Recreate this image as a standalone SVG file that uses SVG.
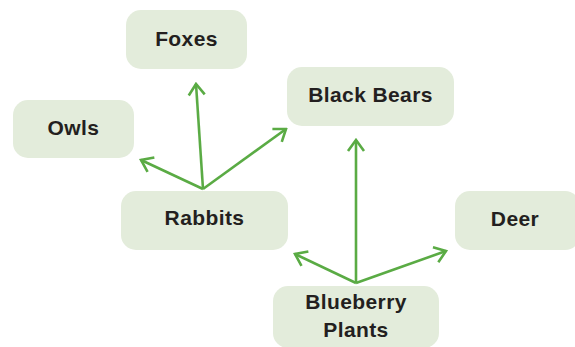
<svg xmlns="http://www.w3.org/2000/svg" width="575" height="347" viewBox="0 0 575 347">
<style>
.box{fill:#e3ecdb}
.lbl{font-family:"Liberation Sans",Arial,sans-serif;font-weight:bold;font-size:21px;fill:#231f20;text-anchor:middle;letter-spacing:0.4px}
.edge{stroke:#5aab44;stroke-width:2.6;fill:none;marker-end:url(#ah)}
</style>
<defs>
<marker id="ah" markerUnits="userSpaceOnUse" viewBox="-14 -10 16 20" refX="0" refY="0" markerWidth="16" markerHeight="20" orient="auto">
<path d="M-11,-8 L0,0 L-11,8" fill="none" stroke="#5aab44" stroke-width="2.6"/>
</marker>
</defs>
<g id="foxes"><rect class="box" x="126" y="10" width="121" height="59" rx="15"/><text class="lbl" x="186.5" y="46">Foxes</text></g>
<g id="owls"><rect class="box" x="13" y="100" width="121" height="58" rx="15"/><text class="lbl" x="73.5" y="135">Owls</text></g>
<g id="blackbears"><rect class="box" x="287" y="67" width="167" height="59" rx="15"/><text class="lbl" x="370.5" y="102">Black Bears</text></g>
<g id="rabbits"><rect class="box" x="121" y="191" width="167" height="59" rx="15"/><text class="lbl" x="204.5" y="225">Rabbits</text></g>
<g id="deer"><rect class="box" x="455" y="191" width="125" height="59" rx="15"/><text class="lbl" x="515" y="226">Deer</text></g>
<g id="blueberry"><rect class="box" x="273" y="286" width="166" height="62" rx="15"/><text class="lbl" x="356" y="309">Blueberry</text><text class="lbl" x="356" y="337">Plants</text></g>
<g id="connectors">
<line class="edge" x1="203" y1="189" x2="196" y2="84"/>
<line class="edge" x1="203" y1="189" x2="141" y2="160"/>
<line class="edge" x1="203" y1="189" x2="286" y2="129"/>
<line class="edge" x1="356" y1="283" x2="356" y2="140"/>
<line class="edge" x1="356" y1="283" x2="295" y2="254"/>
<line class="edge" x1="356" y1="283" x2="446" y2="251"/>
</g>
</svg>
